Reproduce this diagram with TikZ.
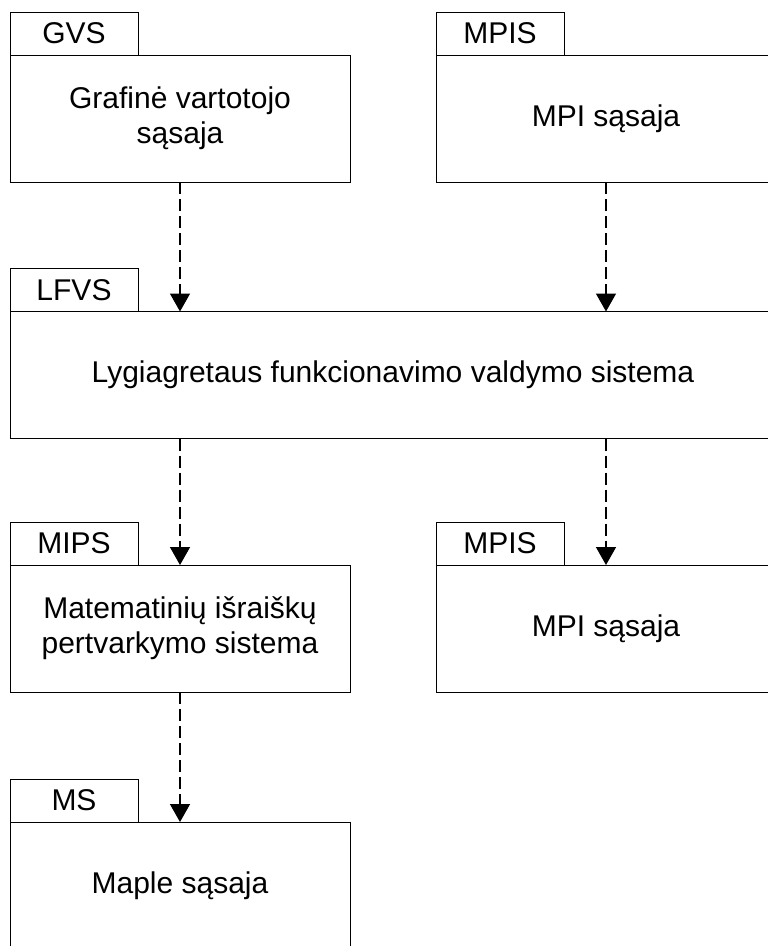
\documentclass[tikz,border=0pt]{standalone}
\usepackage{fontspec}
\setmainfont{Liberation Sans}
\usetikzlibrary{arrows.meta}
\begin{document}
\begin{tikzpicture}[x=1pt,y=-1pt,
  every node/.style={inner sep=0pt,outer sep=0pt},
  body/.style={draw,line width=1pt,minimum width=340pt,minimum height=127pt,
    align=center,font=\fontsize{30}{35}\selectfont},
  tab/.style={draw,line width=1pt,minimum width=128pt,minimum height=43pt,
    anchor=south west,font=\fontsize{30}{35}\selectfont},
  flow/.style={line width=1.5pt,dash pattern=on 12pt off 5pt,
    -{Triangle[width=20pt,length=18pt]}}]
\useasboundingbox (0,0) rectangle (768,946);
\clip (0,0) rectangle (768,946);
% first row
\node[body] (gvs) at (180,118.5) {Grafinė vartotojo\\sąsaja};
\node[tab] (gvstab) at (gvs.north west) {GVS};
\node[body] (mpis) at (606,118.5) {MPI sąsaja};
\node[tab] (mpistab) at (mpis.north west) {MPIS};
% control system
\node[body,minimum width=766pt] (lfvs) at (393,375) {Lygiagretaus funkcionavimo valdymo sistema};
\node[tab] (lfvstab) at (lfvs.north west) {LFVS};
% third row
\node[body] (mips) at (180,628.5) {Matematinių išraiškų\\pertvarkymo sistema};
\node[tab] (mipstab) at (mips.north west) {MIPS};
\node[body] (mpisb) at (606,628.5) {MPI sąsaja};
\node[tab] (mpisbtab) at (mpisb.north west) {MPIS};
% Maple
\node[body] (ms) at (180,885.5) {Maple sąsaja};
\node[tab] (mstab) at (ms.north west) {MS};
% connectors
\draw[flow] (gvs.south) -- (gvs.south |- lfvs.north);
\draw[flow] (mpis.south) -- (mpis.south |- lfvs.north);
\draw[flow] (lfvs.south -| mips.north) -- (mips.north);
\draw[flow] (lfvs.south -| mpisb.north) -- (mpisb.north);
\draw[flow] (mips.south) -- (ms.north);
\end{tikzpicture}
\end{document}
